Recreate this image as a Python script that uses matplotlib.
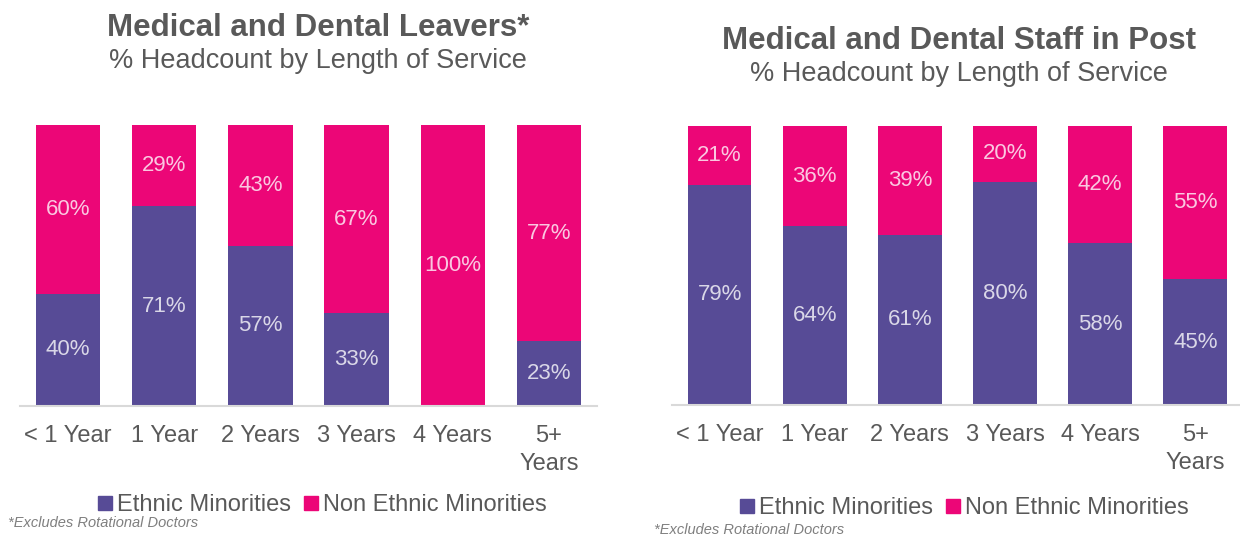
import numpy as np
import matplotlib
matplotlib.use("Agg")
import matplotlib.pyplot as plt
from matplotlib.lines import Line2D

plt.rcParams['font.family'] = ['Liberation Sans', 'DejaVu Sans']

categorias = ['< 1 Year', '1 Year', '2 Years', '3 Years', '4 Years', '5+\nYears']

# % headcount de leavers
leavers_em = [40, 71, 57, 33, 0, 23]
leavers_non = [60, 29, 43, 67, 100, 77]

# % headcount de staff in post
post_em = [79, 64, 61, 80, 58, 45]
post_non = [21, 36, 39, 20, 42, 55]

MORADO = '#574B96'
MAGENTA = '#EC0677'
GRIS = '#595959'

W, H = 1240, 537
fig = plt.figure(figsize=(W / 100, H / 100), dpi=100)


def panel(x0, x1, y0, y1, em, non, titulo, cx_titulo, ytitulo, xmax=5.5):
    ax = fig.add_axes([x0 / W, 1 - y1 / H, (x1 - x0) / W, (y1 - y0) / H])
    x = np.arange(len(categorias))
    ax.bar(x, em, width=0.67, color=MORADO)
    ax.bar(x, non, width=0.67, bottom=em, color=MAGENTA)
    for i in range(len(x)):
        if em[i] > 0:
            ax.text(x[i], em[i] / 2, f"{em[i]}%", ha='center', va='center',
                    fontsize=16, color='white', alpha=0.78)
        if non[i] > 0:
            ax.text(x[i], em[i] + non[i] / 2, f"{non[i]}%", ha='center', va='center',
                    fontsize=16, color='white', alpha=0.78)
    ax.set_xlim(-0.5, xmax)
    ax.set_ylim(0, 100)
    ax.set_xticks(x)
    ax.set_xticklabels(categorias, fontsize=17, color=GRIS, linespacing=1.35)
    ax.tick_params(axis='x', length=0, pad=14)
    ax.set_yticks([])
    for lado in ['top', 'right', 'left']:
        ax.spines[lado].set_visible(False)
    ax.spines['bottom'].set_color('#D9D9D9')
    ax.spines['bottom'].set_linewidth(1.5)

    cx = cx_titulo / W
    fig.text(cx, 1 - ytitulo / H, titulo, ha='center', va='center',
             fontsize=22.5, fontweight='bold', color=GRIS)
    fig.text(cx, 1 - (ytitulo + 33) / H, '% Headcount by Length of Service',
             ha='center', va='center', fontsize=19.5, color=GRIS)
    return ax


panel(20, 597, 125, 406, leavers_em, leavers_non, 'Medical and Dental Leavers*', 318, 28)
panel(672, 1240, 126, 405, post_em, post_non, 'Medical and Dental Staff in Post', 959, 41,
      xmax=5.47)

handles = [Line2D([], [], marker='s', linestyle='', markersize=10, color=MORADO),
           Line2D([], [], marker='s', linestyle='', markersize=10, color=MAGENTA)]
nombres = ['Ethnic Minorities', 'Non Ethnic Minorities']
for cx, cy in [(320, 505), (962, 508)]:
    fig.legend(handles, nombres, loc='center', bbox_to_anchor=(cx / W, 1 - cy / H),
               ncol=2, frameon=False, fontsize=17, labelcolor=GRIS,
               handletextpad=0.0, columnspacing=0.35, handlelength=1.0)

pie = '*Excludes Rotational Doctors'
for px, py in [(8, 523), (654, 530)]:
    fig.text(px / W, 1 - py / H, pie, ha='left', va='center', fontsize=10.5,
             style='italic', color='#7F7F7F')

fig.savefig('out.png', dpi=100)
